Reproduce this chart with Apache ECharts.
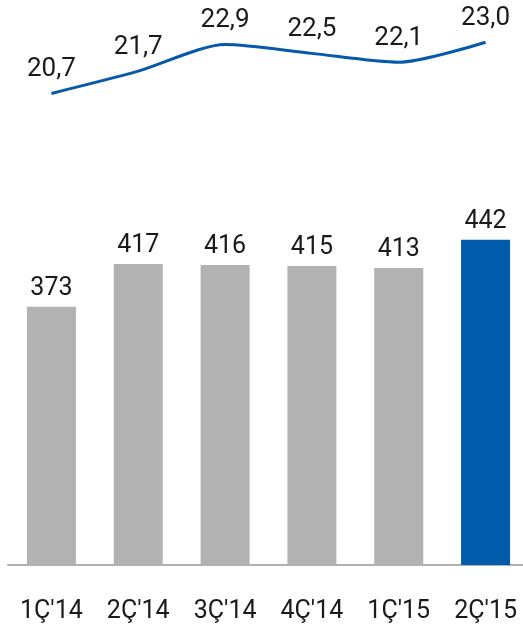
<!DOCTYPE html>
<html>
<head>
<meta charset="utf-8">
<script src="https://cdn.jsdelivr.net/npm/echarts@6/dist/echarts.min.js"></script>
<style>
html,body{margin:0;padding:0;background:#fff;}
#c{width:523px;height:631px;}
</style>
</head>
<body>
<div id="c"></div>
<script>
const categories = ["1Ç'14", "2Ç'14", "3Ç'14", "4Ç'14", "1Ç'15", "2Ç'15"];
const barValues = [373, 417, 416, 415, 413, 442];
const lineValues = [20.7, 21.7, 22.9, 22.5, 22.1, 23.0];
const barColors = ['#b2b2b2', '#b2b2b2', '#b2b2b2', '#b2b2b2', '#b2b2b2', '#005baa'];

const chart = echarts.init(document.getElementById('c'));
const fmt = v => String(v.toFixed(1)).replace('.', ',');
chart.setOption({
  animation: false,
  textStyle: { fontFamily: 'Roboto' },
  grid: [
    { left: 8, width: 521, top: 200, bottom: 66, outerBoundsMode: 'none', containLabel: false },
    { left: 8, width: 521, top: 20, height: 89, outerBoundsMode: 'none', containLabel: false }
  ],
  xAxis: [
    {
      gridIndex: 0, type: 'category', data: categories,
      axisLine: { lineStyle: { color: '#b0b0b0', width: 2 } },
      axisTick: { show: false },
      axisLabel: { interval: 0, margin: 34, fontSize: 25, color: '#1a1a1a', fontFamily: 'Roboto' }
    },
    {
      gridIndex: 1, type: 'category', data: categories,
      axisLine: { show: false }, axisTick: { show: false }, axisLabel: { show: false }
    }
  ],
  yAxis: [
    { gridIndex: 0, type: 'value', min: 107, max: 483, show: false, splitLine: { show: false } },
    { gridIndex: 1, type: 'value', min: 20, max: 24, show: false, splitLine: { show: false } }
  ],
  series: [
    {
      type: 'bar', xAxisIndex: 0, yAxisIndex: 0, barWidth: 49,
      data: barValues.map((v, i) => ({ value: v, itemStyle: { color: barColors[i] } })),
      label: { show: true, position: 'top', distance: 6, fontSize: 25, color: '#1a1a1a', fontFamily: 'Roboto' }
    },
    {
      type: 'line', xAxisIndex: 1, yAxisIndex: 1, data: lineValues,
      smooth: 0.25, showSymbol: true, symbol: 'circle', symbolSize: 2,
      itemStyle: { color: 'rgba(0,0,0,0)', borderWidth: 0 },
      lineStyle: { color: '#0559a8', width: 3 },
      label: { show: true, position: 'top', distance: 10, fontSize: 26, color: '#1a1a1a', fontFamily: 'Roboto', opacity: 1,
        formatter: p => fmt(p.value) }
    }
  ]
});
</script>
</body>
</html>
